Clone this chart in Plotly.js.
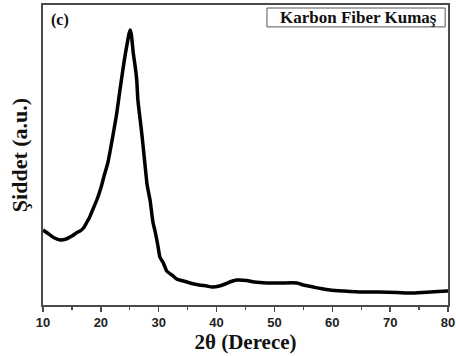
<!DOCTYPE html>
<html>
<head>
<meta charset="utf-8">
<script src="https://cdn.plot.ly/plotly-3.0.1.min.js"></script>
<style>html,body{margin:0;padding:0;background:#fff;}#chart{width:456px;height:356px;}</style>
</head>
<body>
<div id="chart"></div>
<script>
// 2θ (degrees)
const twoTheta = [10, 11, 12, 13, 14, 15, 16, 16.4, 17, 17.6, 18, 18.5, 19.3, 20, 20.6, 21.2, 21.7, 22.1, 22.7, 23.3, 23.8, 24.2, 24.6, 24.9, 25.1, 25.3, 25.6, 25.9, 26.2, 26.4, 26.8, 27.1, 27.6, 28.0, 28.5, 29.0, 29.4, 29.9, 30.2, 30.8, 31.4, 32.5, 33.1, 34.9, 35.4, 37, 38.3, 39.2, 40.5, 41.5, 42.5, 43.5, 45.2, 46.5, 48.7, 51, 53.9, 55, 56.7, 58, 59.6, 62, 65.3, 68, 71.2, 74, 77, 79.8, 80];
// Intensity (a.u.)
const intensity = [75, 71, 67, 65, 66, 69, 73, 74, 77, 83, 87, 94, 105, 117, 130, 142, 157, 170, 190, 215, 235, 250, 263, 272, 275, 269, 252, 240, 225, 205, 185, 170, 142, 120, 105, 83, 73, 58, 48, 42, 34, 29, 26, 23, 22, 20, 19, 18, 19, 21, 23.5, 25, 24.5, 23, 22, 22, 22, 20, 18, 16.5, 15, 14, 13, 13, 12.5, 12, 13, 14, 14];
const xTicks = [10, 20, 30, 40, 50, 60, 70, 80];
const xTickText = ["10", "20", "30", "40", "50", "60", "70", "80"];

const frame = '#4a4a4a';
const serif = 'Liberation Serif, Times New Roman, serif';
const sans = 'Liberation Sans, Arial, sans-serif';

const trace = {
  x: twoTheta, y: intensity, type: 'scatter', mode: 'lines',
  line: {color: '#000', width: 3.5, shape: 'spline', smoothing: 0.6},
  hoverinfo: 'skip'
};

const layout = {
  width: 456, height: 356,
  margin: {l: 43, r: 8, t: 5, b: 51},
  paper_bgcolor: '#fff', plot_bgcolor: '#fff',
  showlegend: false,
  xaxis: {
    range: [10, 80], tickvals: xTicks, ticktext: xTickText.map(t => '<b>' + t + '</b>'),
    ticks: 'outside', ticklen: 5, tickwidth: 1.4, tickcolor: frame,
    minor: {dtick: 5, tick0: 10, ticks: 'outside', ticklen: 3, tickwidth: 1.2, tickcolor: frame, showgrid: false},
    showline: true, linecolor: frame, linewidth: 1.6, mirror: true,
    showgrid: false, zeroline: false,
    tickfont: {family: sans, size: 13, color: '#222'},
    title: {text: '<b>2θ (Derece)</b>', font: {family: serif, size: 21, color: '#111'}, standoff: 4}
  },
  yaxis: {
    range: [0, 300], showticklabels: false, ticks: '',
    showline: true, linecolor: frame, linewidth: 1.6, mirror: true,
    showgrid: false, zeroline: false,
    title: {text: '<b>Şiddet (a.u.)</b>', font: {family: serif, size: 22, color: '#111'}, standoff: 8}
  },
  shapes: [{
    type: 'rect', xref: 'paper', yref: 'paper',
    x0: 0.553, x1: 0.993, y0: 0.927, y1: 0.99,
    line: {color: '#555', width: 1}, fillcolor: 'rgba(0,0,0,0)'
  }],
  annotations: [
    {xref: 'paper', yref: 'paper', x: 0.78, y: 0.958, xanchor: 'center', yanchor: 'middle',
     text: '<b>Karbon Fiber Kumaş</b>', showarrow: false,
     font: {family: serif, size: 17, color: '#111'}},
    {xref: 'paper', yref: 'paper', x: 0.015, y: 0.95, xanchor: 'left', yanchor: 'middle',
     text: '<b>(c)</b>', showarrow: false,
     font: {family: serif, size: 16, color: '#111'}}
  ]
};

Plotly.newPlot('chart', [trace], layout, {staticPlot: true, displayModeBar: false});
</script>
</body>
</html>
